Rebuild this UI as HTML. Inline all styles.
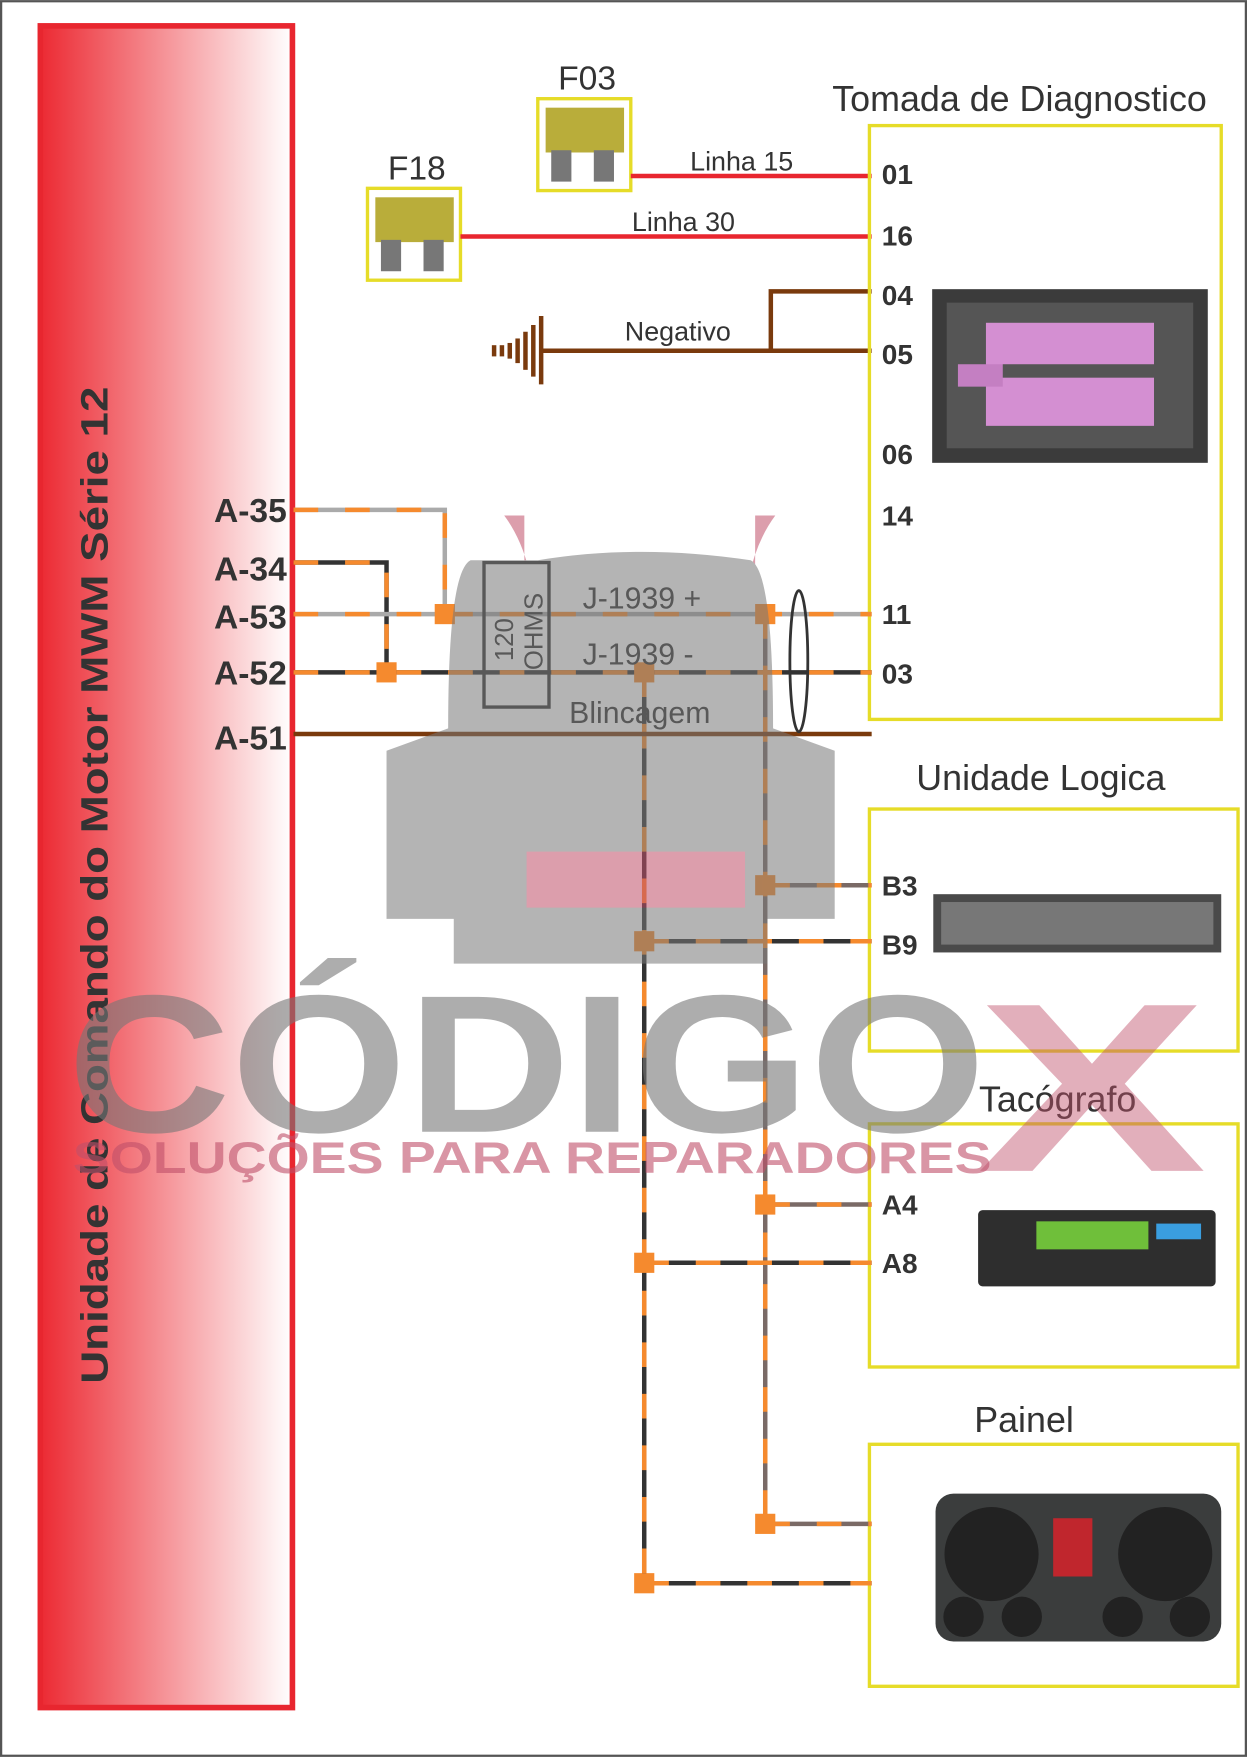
<!DOCTYPE html>
<html><head><meta charset="utf-8"><style>
html,body{margin:0;padding:0;background:#fff}
svg{display:block}
text{font-family:"Liberation Sans",sans-serif}
</style></head><body>
<svg width="1247" height="1757" viewBox="0 0 1113 1568" xmlns="http://www.w3.org/2000/svg">
<defs>
<linearGradient id="rg" x1="0" x2="1" y1="0" y2="0">
<stop offset="0" stop-color="#ec2a33"/><stop offset="1" stop-color="#ffffff"/>
</linearGradient>
</defs>
<rect x="1" y="1" width="1111" height="1566" fill="#fff" stroke="#555" stroke-width="2"/>
<rect x="36" y="23" width="225" height="1501" fill="url(#rg)" stroke="#e8262f" stroke-width="5"/>
<text transform="translate(96,1235) rotate(-90)" font-size="34" font-weight="bold" fill="#333" textLength="890" lengthAdjust="spacingAndGlyphs">Unidade de Comando do Motor MWM Série 12</text>
<g font-size="30" font-weight="bold" fill="#333" text-anchor="end">
<text x="256" y="466">A-35</text><text x="256" y="518">A-34</text><text x="256" y="561">A-53</text><text x="256" y="611">A-52</text><text x="256" y="669">A-51</text>
</g>
<g>
<rect x="480" y="88" width="83" height="82" fill="#fff" stroke="#e6dc28" stroke-width="3"/>
<rect x="487" y="96" width="70" height="40" fill="#b9ad3a"/><rect x="492" y="134" width="18" height="28" fill="#777"/><rect x="530" y="134" width="18" height="28" fill="#777"/>
<rect x="328" y="168" width="83" height="82" fill="#fff" stroke="#e6dc28" stroke-width="3"/>
<rect x="335" y="176" width="70" height="40" fill="#b9ad3a"/><rect x="340" y="214" width="18" height="28" fill="#777"/><rect x="378" y="214" width="18" height="28" fill="#777"/>
</g>
<g font-size="30" fill="#333" text-anchor="middle"><text x="524" y="80">F03</text><text x="372" y="160">F18</text></g>
<line x1="563" y1="157" x2="778" y2="157" stroke="#e8262f" stroke-width="4"/>
<line x1="411" y1="211" x2="778" y2="211" stroke="#e8262f" stroke-width="4"/>
<g font-size="24" fill="#333" text-anchor="middle"><text x="662" y="152">Linha 15</text><text x="610" y="206">Linha 30</text><text x="605" y="304">Negativo</text></g>
<g stroke="#7a3a0d" stroke-width="4" fill="none">
<line x1="483" y1="313" x2="778" y2="313"/><polyline points="688,313 688,260 778,260"/>
<line x1="483" y1="282" x2="483" y2="343"/><line x1="476" y1="290" x2="476" y2="336"/><line x1="469" y1="296" x2="469" y2="330"/><line x1="462" y1="302" x2="462" y2="324"/><line x1="455" y1="306" x2="455" y2="320"/><line x1="448" y1="308" x2="448" y2="318"/><line x1="441" y1="308" x2="441" y2="318"/>
</g>
<rect x="776" y="112" width="314" height="530" fill="none" stroke="#e6dc28" stroke-width="3"/>
<text x="910" y="99" font-size="32" fill="#333" text-anchor="middle">Tomada de Diagnostico</text>
<g font-size="25" font-weight="bold" fill="#333">
<text x="787" y="164">01</text><text x="787" y="219">16</text><text x="787" y="272">04</text><text x="787" y="325">05</text><text x="787" y="414">06</text><text x="787" y="469">14</text><text x="787" y="557">11</text><text x="787" y="610">03</text>
</g>
<rect x="832" y="258" width="246" height="155" fill="#3b3b3b"/>
<rect x="845" y="270" width="220" height="130" fill="#555"/>
<rect x="880" y="288" width="150" height="92" fill="#d48fd2"/>
<rect x="855" y="325" width="40" height="20" fill="#c47fc2"/>
<rect x="895" y="325" width="135" height="12" fill="#555"/>
<rect x="776" y="722" width="329" height="216" fill="none" stroke="#e6dc28" stroke-width="3"/>
<text x="929" y="705" font-size="32" fill="#333" text-anchor="middle">Unidade Logica</text>
<g font-size="25" font-weight="bold" fill="#333"><text x="787" y="799">B3</text><text x="787" y="852">B9</text><text x="787" y="1084">A4</text><text x="787" y="1136">A8</text></g>
<rect x="833" y="798" width="257" height="52" fill="#4a4a4a"/><rect x="840" y="805" width="243" height="38" fill="#777"/>
<rect x="776" y="1003" width="329" height="217" fill="none" stroke="#e6dc28" stroke-width="3"/>
<text x="944" y="992" font-size="32" fill="#333" text-anchor="middle">Tacógrafo</text>
<rect x="873" y="1080" width="212" height="68" rx="4" fill="#2e2e2e"/><rect x="925" y="1090" width="100" height="25" fill="#6fbf3a"/><rect x="1032" y="1092" width="40" height="14" fill="#3a9ee0"/>
<rect x="776" y="1289" width="329" height="216" fill="none" stroke="#e6dc28" stroke-width="3"/>
<text x="914" y="1278" font-size="32" fill="#333" text-anchor="middle">Painel</text>
<rect x="835" y="1333" width="255" height="132" rx="16" fill="#3b3d3d"/>
<circle cx="885" cy="1387" r="42" fill="#222"/><circle cx="1040" cy="1387" r="42" fill="#222"/><rect x="940" y="1355" width="35" height="52" fill="#c0262d"/>
<circle cx="860" cy="1443" r="18" fill="#222"/><circle cx="912" cy="1443" r="18" fill="#222"/><circle cx="1002" cy="1443" r="18" fill="#222"/><circle cx="1062" cy="1443" r="18" fill="#222"/>
<g fill="none" stroke-width="4">
<polyline points="262,455 397,455 397,548" stroke="#aaa"/>
<polyline points="262,502 345,502 345,600" stroke="#333"/>
<line x1="262" y1="548" x2="778" y2="548" stroke="#aaa"/>
<line x1="262" y1="600" x2="778" y2="600" stroke="#333"/>
<line x1="575" y1="600" x2="575" y2="1413" stroke="#333"/>
<line x1="683" y1="548" x2="683" y2="1360" stroke="#7a6a66"/>
<line x1="683" y1="790" x2="778" y2="790" stroke="#7a6a66"/>
<line x1="575" y1="840" x2="778" y2="840" stroke="#333"/>
<line x1="683" y1="1075" x2="778" y2="1075" stroke="#7a6a66"/>
<line x1="575" y1="1127" x2="778" y2="1127" stroke="#333"/>
<line x1="683" y1="1360" x2="778" y2="1360" stroke="#7a6a66"/>
<line x1="575" y1="1413" x2="778" y2="1413" stroke="#333"/>
</g>
<g fill="none" stroke-width="4" stroke="#f58a2e" stroke-dasharray="22 24">
<polyline points="262,455 397,455 397,548"/>
<polyline points="262,502 345,502 345,600"/>
<line x1="262" y1="548" x2="778" y2="548"/>
<line x1="262" y1="600" x2="778" y2="600"/>
<line x1="575" y1="600" x2="575" y2="1413"/>
<line x1="683" y1="548" x2="683" y2="1360"/>
<line x1="683" y1="790" x2="778" y2="790"/>
<line x1="575" y1="840" x2="778" y2="840"/>
<line x1="683" y1="1075" x2="778" y2="1075"/>
<line x1="575" y1="1127" x2="778" y2="1127"/>
<line x1="683" y1="1360" x2="778" y2="1360"/>
<line x1="575" y1="1413" x2="778" y2="1413"/>
</g>
<line x1="262" y1="655" x2="778" y2="655" stroke="#7a3a0d" stroke-width="4"/>
<ellipse cx="713" cy="590" rx="8" ry="63" fill="none" stroke="#333" stroke-width="2.5"/>
<g fill="#f58a2e">
<rect x="388" y="539" width="18" height="18"/><rect x="336" y="591" width="18" height="18"/><rect x="566" y="591" width="18" height="18"/><rect x="674" y="539" width="18" height="18"/>
<rect x="674" y="781" width="18" height="18"/><rect x="566" y="831" width="18" height="18"/><rect x="674" y="1066" width="18" height="18"/><rect x="566" y="1118" width="18" height="18"/><rect x="674" y="1351" width="18" height="18"/><rect x="566" y="1404" width="18" height="18"/>
</g>
<rect x="432" y="502" width="58" height="129" fill="none" stroke="#333" stroke-width="3"/>
<text transform="translate(458,590) rotate(-90)" font-size="23" fill="#333">120</text>
<text transform="translate(484,598) rotate(-90)" font-size="23" fill="#333">OHMS</text>
<g font-size="27" fill="#333"><text x="520" y="543">J-1939 +</text><text x="520" y="593">J-1939  -</text><text x="508" y="645">Blincagem</text></g>
<g opacity="0.55">
<path d="M450,460 q30,40 30,120 v40 h-12 v-160z M692,460 q-30,40 -30,120 v40 h12 v-160z" fill="#c0506a"/>
<path d="M480,500 q90,-15 190,0 q20,10 20,150 l55,20 v150 h-60 v40 h-280 v-40 h-60 v-150 l55,-20 q0,-140 20,-150z" fill="#777"/>
<rect x="470" y="760" width="195" height="50" fill="#c0506a"/>
</g>
<text x="60" y="1010" font-size="175" font-weight="bold" fill="#777" opacity="0.6" textLength="820" lengthAdjust="spacingAndGlyphs">CÓDIGO</text>
<text x="872" y="1045" font-size="215" font-weight="bold" fill="#c0506a" opacity="0.45" textLength="205" lengthAdjust="spacingAndGlyphs">X</text>
<text x="65" y="1047" font-size="40" font-weight="bold" fill="#c0506a" opacity="0.6" textLength="820" lengthAdjust="spacingAndGlyphs">SOLUÇÕES PARA REPARADORES</text>
</svg>
</body></html>
